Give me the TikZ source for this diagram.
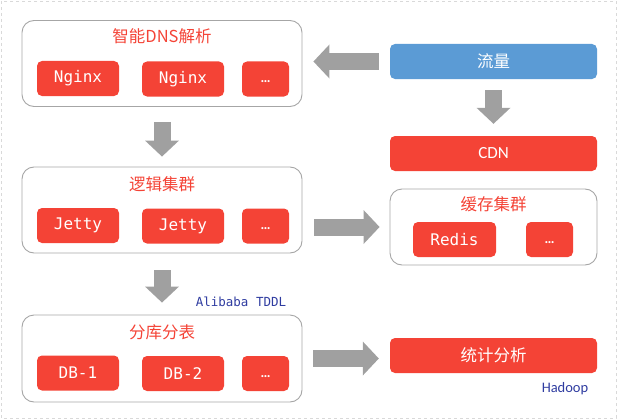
\documentclass[tikz,border=0pt]{standalone}
\usepackage{fontspec}
\setmainfont{Carlito}
\newfontfamily\cjk{Noto Sans CJK SC}
\newfontfamily\codefont{DejaVu Sans Mono}
\usetikzlibrary{arrows.meta}
\definecolor{boxred}{HTML}{F44336}
\definecolor{flowblue}{HTML}{5B9BD5}
\definecolor{edgegray}{HTML}{A6A6A6}
\definecolor{arrowgray}{HTML}{A0A0A0}
\definecolor{noteblue}{HTML}{2F3CA0}
\begin{document}
\begin{tikzpicture}[x=1pt,y=-1pt,
        group/.style={draw=edgegray,line width=0.9pt,rounded corners=12pt,
            minimum width=280pt,minimum height=86pt,inner sep=0pt},
        title/.style={text=boxred,font=\cjk\fontsize{16.5}{18}\selectfont,inner sep=0pt},
        item/.style={fill=boxred,rounded corners=5pt,text=white,inner sep=0pt,
            minimum width=82pt,minimum height=35pt,
            font=\codefont\fontsize{16}{18}\selectfont},
        more/.style={item,minimum width=47pt,text height=11pt,text depth=4pt,
            font=\bfseries\fontsize{14}{16}\selectfont},
        wide/.style={rounded corners=5pt,text=white,inner sep=0pt,
            minimum width=207pt,minimum height=35pt},
        note/.style={text=noteblue,inner sep=0pt},
        flow/.style={draw=arrowgray,line width=17pt,
            -{Triangle[width=34pt,length=16pt,line width=0pt]}}]
    \useasboundingbox (0,0) rectangle (618,420);
    \draw[dashed,draw=black!15,line width=0.8pt] (1,1) rectangle (616,418);

    % left column
    \node[group] (dns) at (162,63.5) {};
    \node[title] (dnstitle) at (162,36) {智能DNS解析};
    \node[item] (nginxa) at (78,78.5) {Nginx};
    \node[item] (nginxb) at (183,79) {Nginx};
    \node[more] (nginxc) at (265.5,79) {…};

    \node[group] (logic) at (162,210) {};
    \node[title] (logictitle) at (162,184) {逻辑集群};
    \node[item] (jettya) at (78,225.5) {Jetty};
    \node[item] (jettyb) at (183,226) {Jetty};
    \node[more] (jettyc) at (265.5,226) {…};

    \node[group,minimum height=87pt] (shard) at (162,358.5) {};
    \node[title] (shardtitle) at (162,332) {分库分表};
    \node[item] (dba) at (78,373) {DB-1};
    \node[item] (dbb) at (183,373.5) {DB-2};
    \node[more] (dbc) at (265.5,373.5) {…};

    \node[note,font=\codefont\fontsize{12.5}{14}\selectfont] (tddl) at (241,301.5) {Alibaba TDDL};

    % right column
    \node[wide,fill=flowblue,font=\cjk\fontsize{16.5}{18}\selectfont] (traffic) at (493.5,61.5) {流量};
    \node[wide,fill=boxred,font=\fontsize{17}{19}\selectfont] (cdn) at (493.5,153.5) {CDN};

    \node[group,minimum width=207pt,minimum height=76pt] (cache) at (493.5,227) {};
    \node[title] (cachetitle) at (493.5,204) {缓存集群};
    \node[item,minimum width=83pt] (redis) at (454.5,239.5) {Redis};
    \node[more] (cachec) at (549.5,239.5) {…};

    \node[wide,fill=boxred,font=\cjk\fontsize{16.5}{18}\selectfont] (stats) at (493.5,355.5) {统计分析};
    \node[note,font=\fontsize{14.5}{16}\selectfont] (hadoop) at (565,389) {Hadoop};

    % block arrows
    \draw[flow,shorten <=11pt,shorten >=11pt] (traffic.west) -- (traffic.west -| dns.east);
    \draw[flow,shorten <=11pt,shorten >=12pt] (traffic.south) -- (cdn.north);
    \draw[flow,shorten <=15pt,shorten >=10pt] (dns.south) -- (logic.north);
    \draw[flow,shorten <=17pt,shorten >=12pt] (logic.south) -- (shard.north);
    \draw[flow,shorten <=12pt,shorten >=10pt] (logic.east |- cache.west) -- (cache.west);
    \draw[flow,shorten <=11pt,shorten >=11pt] (shard.east) -- (shard.east -| stats.west);
\end{tikzpicture}
\end{document}
